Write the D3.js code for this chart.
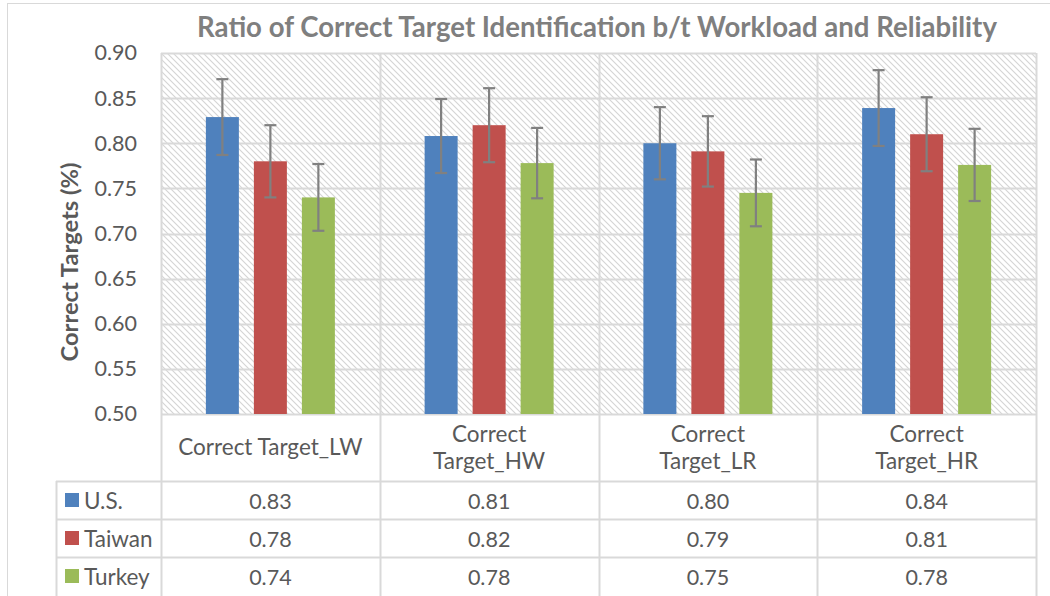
<!DOCTYPE html>
<html><head><meta charset="utf-8">
<script src="https://cdn.jsdelivr.net/npm/d3@7"></script>
<style>body{margin:0;background:#fff}svg{display:block}text{font-family:Lato,"Open Sans",sans-serif}</style>
</head><body><svg id="c" width="1050" height="596"></svg>
<script>
const categories = ["Correct Target_LW","Correct Target_HW","Correct Target_LR","Correct Target_HR"];
const categoryLines = [["Correct Target_LW"],["Correct","Target_HW"],["Correct","Target_LR"],["Correct","Target_HR"]];
const seriesNames = ["U.S.","Taiwan","Turkey"];
const seriesColors = ["#4F81BD","#C0504D","#9BBB59"];
const usValues = [0.829,0.808,0.800,0.839];
const taiwanValues = [0.780,0.820,0.791,0.810];
const turkeyValues = [0.740,0.778,0.745,0.776];
const usErr = [0.042,0.041,0.040,0.042];
const taiwanErr = [0.040,0.041,0.039,0.041];
const turkeyErr = [0.037,0.039,0.037,0.040];
const tableUS = ["0.83","0.81","0.80","0.84"];
const tableTaiwan = ["0.78","0.82","0.79","0.81"];
const tableTurkey = ["0.74","0.78","0.75","0.78"];
const yTicks = [0.50,0.55,0.60,0.65,0.70,0.75,0.80,0.85,0.90];

const values = [usValues, taiwanValues, turkeyValues];
const errs = [usErr, taiwanErr, turkeyErr];
const tableRows = [tableUS, tableTaiwan, tableTurkey];

const svg = d3.select("#c");
const L = 161, R = 1036, T = 53, B = 414;
const grid = "#d9d9d9";
const txt = "#595959";
const FS = 22.5, NUM = 21.5;

svg.append("rect").attr("x",7.5).attr("y",3.5).attr("width",1050).attr("height",600)
  .attr("fill","none").attr("stroke","#d9d9d9");

const defs = svg.append("defs");
const pat = defs.append("pattern").attr("id","hatch").attr("patternUnits","userSpaceOnUse")
  .attr("width",6).attr("height",6);
pat.append("rect").attr("width",6).attr("height",6).attr("fill","#fff");
pat.append("path").attr("d","M-1,-1L7,7M-1,5L1,7M5,-1L7,1").attr("stroke","#d4d4d4").attr("stroke-width",1.1);

const x = d3.scaleBand().domain(categories).range([L,R]);
const y = d3.scaleLinear().domain([0.5,0.9]).range([B,T]);
const GW = 129;
const xs = d3.scaleBand().domain(seriesNames).range([0, GW]).paddingInner(0.3125);

svg.append("rect").attr("x",L).attr("y",T).attr("width",R-L).attr("height",B-T).attr("fill","url(#hatch)");

svg.append("g").selectAll("line").data(yTicks).join("line")
  .attr("x1",L).attr("x2",R).attr("y1",d=>Math.round(y(d))+0.5).attr("y2",d=>Math.round(y(d))+0.5)
  .attr("stroke",grid).attr("stroke-width",2);
const xEdges = categories.map(c=>x(c)).concat([R]);
svg.append("g").selectAll("line").data(xEdges).join("line")
  .attr("x1",d=>Math.round(d)+0.5).attr("x2",d=>Math.round(d)+0.5).attr("y1",T).attr("y2",596)
  .attr("stroke",grid).attr("stroke-width",2);

const yAxis = d3.axisLeft(y).tickValues(yTicks).tickFormat(d3.format(".2f")).tickSize(0).tickPadding(24);
const ga = svg.append("g").attr("transform",`translate(${L},0)`).call(yAxis);
ga.select(".domain").remove();
ga.selectAll("text").attr("font-size",NUM).attr("fill",txt).attr("font-family","Lato,sans-serif");

seriesNames.forEach((s,si)=>{
  const g = svg.append("g");
  const bw = xs.bandwidth();
  const off = (x.bandwidth()-GW)/2;
  g.selectAll("rect").data(categories).join("rect")
    .attr("x",(c)=>x(c)+off+xs(s))
    .attr("y",(c,i)=>y(values[si][i]))
    .attr("width",bw)
    .attr("height",(c,i)=>y(0.5)-y(values[si][i]))
    .attr("fill",seriesColors[si]);
  const cx = (c)=>x(c)+off+xs(s)+bw/2;
  g.selectAll("line.e").data(categories).join("line").attr("class","e")
    .attr("x1",cx).attr("x2",cx)
    .attr("y1",(c,i)=>y(values[si][i]+errs[si][i])).attr("y2",(c,i)=>y(values[si][i]-errs[si][i]))
    .attr("stroke","#808080").attr("stroke-width",2.2);
  [1,-1].forEach(sg=>{
    g.selectAll("line.c"+(sg>0?"p":"m")).data(categories).join("line").attr("class","c"+(sg>0?"p":"m"))
      .attr("x1",c=>cx(c)-6).attr("x2",c=>cx(c)+6)
      .attr("y1",(c,i)=>y(values[si][i]+sg*errs[si][i]))
      .attr("y2",(c,i)=>y(values[si][i]+sg*errs[si][i]))
      .attr("stroke","#808080").attr("stroke-width",2.2);
  });
});

const rowTops = [481, 519, 557];
const rowH = 38;
const tl = 56;
rowTops.forEach(yy=>{
  svg.append("line").attr("x1",tl).attr("x2",R).attr("y1",yy+0.5).attr("y2",yy+0.5).attr("stroke",grid).attr("stroke-width",2);
});
svg.append("line").attr("x1",tl+0.5).attr("x2",tl+0.5).attr("y1",481).attr("y2",596).attr("stroke",grid).attr("stroke-width",2);

categories.forEach((c,i)=>{
  const lines = categoryLines[i];
  const cx = x(c)+x.bandwidth()/2;
  const t = svg.append("text").attr("text-anchor","middle").attr("font-size",FS).attr("fill",txt);
  const y0 = lines.length===1 ? 455 : 442;
  lines.forEach((ln,k)=>t.append("tspan").attr("x",cx).attr("y",y0+k*27).text(ln));
});

seriesNames.forEach((s,si)=>{
  const ym = rowTops[si]+rowH/2;
  svg.append("rect").attr("x",65).attr("y",ym-7).attr("width",14).attr("height",14).attr("fill",seriesColors[si]);
  svg.append("text").attr("x",84).attr("y",ym+8.5).attr("font-size",FS).attr("fill",txt).text(s);
  categories.forEach((c,i)=>{
    svg.append("text").attr("x",x(c)+x.bandwidth()/2).attr("y",ym+8.5).attr("text-anchor","middle")
      .attr("font-size",NUM).attr("fill",txt).text(tableRows[si][i]);
  });
});

function fit(sel, target){
  const w = sel.node().getComputedTextLength();
  const fs = parseFloat(sel.attr("font-size"));
  sel.attr("font-size", fs*target/w);
}
const title = svg.append("text").attr("x",597).attr("y",37).attr("text-anchor","middle").attr("font-size",26)
  .attr("font-weight","bold").attr("fill","#7f7f7f").text("Ratio of Correct Target Identification b/t Workload and Reliability");
fit(title, 800);
const yt = svg.append("text").attr("transform","translate(78,262) rotate(-90)").attr("text-anchor","middle")
  .attr("font-size",22).attr("font-weight","bold").attr("fill",txt).text("Correct Targets (%)");
fit(yt, 199);
</script></body></html>
